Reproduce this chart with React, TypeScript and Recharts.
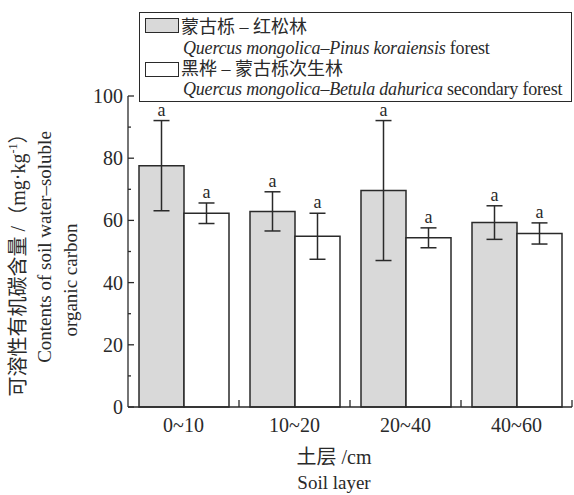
import { BarChart, Bar, XAxis, YAxis, ErrorBar, LabelList, Legend } from 'recharts';

const layers = ['0~10', '10~20', '20~40', '40~60'];
const pinusForest = [77.6, 62.9, 69.6, 59.3];
const pinusErr = [14.5, 6.3, 22.5, 5.4];
const betulaForest = [62.3, 54.9, 54.4, 55.8];
const betulaErr = [3.3, 7.4, 3.2, 3.4];
const pinusSig = ['a', 'a', 'a', 'a'];
const betulaSig = ['a', 'a', 'a', 'a'];
const yTicks = [0, 10, 20, 30, 40, 50, 60, 70, 80, 90, 100];
const seriesZh = ['蒙古栎 – 红松林', '黑桦 – 蒙古栎次生林'];
const seriesLatin = ['Quercus mongolica–Pinus koraiensis', 'Quercus mongolica–Betula dahurica'];
const seriesSuffix = [' forest', ' secondary forest'];

const data = layers.map((layer, i) => ({
  layer,
  pinus: pinusForest[i],
  pinusErr: pinusErr[i],
  pinusSig: pinusSig[i],
  betula: betulaForest[i],
  betulaErr: betulaErr[i],
  betulaSig: betulaSig[i],
}));

const W = 574;
const H = 495;
const AXIS_W = 128;
const RIGHT = 2;
const INK = '#2a2a2a';
const GREY = '#d9d9d9';
const FONT = '"Liberation Serif", "Noto Sans CJK SC", serif';
const halfBand = (W - AXIS_W - RIGHT) / layers.length / 2;

const YTick = (props: any) => {
  const { x, y, payload } = props;
  const major = payload.value % 20 === 0;
  return (
    <g>
      <line x1={x} x2={x + (major ? 6 : 3)} y1={y} y2={y} stroke={INK} strokeWidth={1.3} />
      {major && (
        <text x={x - 5} y={y} dy="0.35em" textAnchor="end" fontSize={20} fill={INK} fontFamily={FONT}>
          {payload.value}
        </text>
      )}
    </g>
  );
};

const XTick = (props: any) => {
  const { x, y, payload } = props;
  return (
    <g>
      <line x1={x + halfBand} x2={x + halfBand} y1={y} y2={y - 7} stroke={INK} strokeWidth={1.3} />
      <text x={x} y={y + 18} dy="0.35em" textAnchor="middle" fontSize={20} fill={INK} fontFamily={FONT}>
        {payload.value}
      </text>
    </g>
  );
};

// places the letter above the error bar top, using the bar's own px/unit
const sigLabel = (vals: number[], errs: number[]) => (props: any) => {
  const { x, y, width, height, value, index } = props;
  const perUnit = Number(height) / vals[index];
  const top = Number(y) - errs[index] * perUnit;
  return (
    <text x={Number(x) + Number(width) / 2} y={top - 5} textAnchor="middle" fontSize={18} fill={INK} fontFamily={FONT}>
      {value}
    </text>
  );
};

const renderLegend = (props: any) => {
  const { payload = [] } = props;
  return (
    <div
      style={{
        position: 'relative',
        width: 433,
        height: 90,
        boxSizing: 'border-box',
        border: `1.5px solid ${INK}`,
        background: '#fff',
        fontFamily: FONT,
        color: INK,
      }}
    >
      {payload.map((entry: any, i: number) => (
        <div key={i}>
          <div
            style={{
              position: 'absolute',
              left: 5,
              top: 5 + i * 44,
              width: 34,
              height: 15,
              boxSizing: 'border-box',
              border: `1.5px solid ${INK}`,
              background: entry.color,
            }}
          />
          <div style={{ position: 'absolute', left: 41, top: 3 + i * 42, lineHeight: '22px', fontSize: 18, whiteSpace: 'nowrap' }}>
            {seriesZh[i]}
          </div>
          <div
            style={{
              position: 'absolute',
              left: 43,
              top: 24 + i * 41,
              lineHeight: '22px',
              fontSize: 18,
              letterSpacing: -0.2,
              whiteSpace: 'pre',
            }}
          >
            <i>{seriesLatin[i]}</i>
            {seriesSuffix[i]}
          </div>
        </div>
      ))}
    </div>
  );
};

export default function App() {
  return (
    <div style={{ position: 'relative', width: W, height: H, background: '#fff', fontFamily: FONT }}>
      <style>{`body{margin:0;}`}</style>
      <BarChart
        width={W}
        height={H}
        data={data}
        margin={{ top: 96, right: RIGHT, bottom: 58, left: 0 }}
        barSize={45}
        barGap={0}
      >
        <XAxis
          dataKey="layer"
          height={30}
          tickSize={0}
          tickMargin={0}
          tickLine={false}
          axisLine={{ stroke: INK, strokeWidth: 1.3 }}
          tick={<XTick />}
          interval={0}
        />
        <YAxis
          type="number"
          domain={[0, 100]}
          ticks={yTicks}
          interval={0}
          width={AXIS_W}
          tickSize={0}
          tickMargin={0}
          tickLine={false}
          axisLine={{ stroke: INK, strokeWidth: 1.3 }}
          tick={<YTick />}
        />
        <Legend
          layout="vertical"
          align="center"
          verticalAlign="middle"
          wrapperStyle={{ top: 12, left: 139, width: 433, height: 90 }}
          content={renderLegend}
        />
        <Bar dataKey="pinus" name={seriesZh[0]} fill={GREY} stroke={INK} strokeWidth={1.5} isAnimationActive={false}>
          <ErrorBar dataKey="pinusErr" width={8} stroke={INK} strokeWidth={1.5} />
          <LabelList dataKey="pinusSig" content={sigLabel(pinusForest, pinusErr)} />
        </Bar>
        <Bar dataKey="betula" name={seriesZh[1]} fill="#ffffff" stroke={INK} strokeWidth={1.5} isAnimationActive={false}>
          <ErrorBar dataKey="betulaErr" width={8} stroke={INK} strokeWidth={1.5} />
          <LabelList dataKey="betulaSig" content={sigLabel(betulaForest, betulaErr)} />
        </Bar>
      </BarChart>
      <svg width={W} height={H} style={{ position: 'absolute', left: 0, top: 0, pointerEvents: 'none' }}>
        <g fill={INK} fontFamily={FONT}>
          <text x={18} y={260} dy="0.35em" textAnchor="middle" fontSize={20} transform="rotate(-90 18 260)">
            可溶性有机碳含量 /（mg·kg
            <tspan fontSize={12} dy={-8}>-1</tspan>
            <tspan dy={8}>）</tspan>
          </text>
          <text x={44} y={247} dy="0.35em" textAnchor="middle" fontSize={19} transform="rotate(-90 44 247)">
            Contents of soil water–soluble
          </text>
          <text x={70} y={280} dy="0.35em" textAnchor="middle" fontSize={19} transform="rotate(-90 70 280)">
            organic carbon
          </text>
          <text x={334} y={457} dy="0.35em" textAnchor="middle" fontSize={20}>
            土层 /cm
          </text>
          <text x={334} y={482} dy="0.35em" textAnchor="middle" fontSize={19}>
            Soil layer
          </text>
        </g>
      </svg>
    </div>
  );
}
